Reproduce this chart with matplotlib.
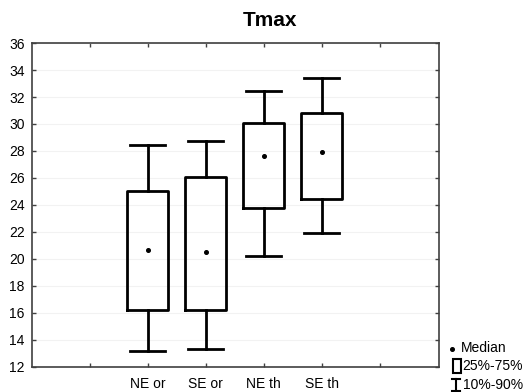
import matplotlib
matplotlib.use("Agg")
import matplotlib.pyplot as plt
from matplotlib.lines import Line2D
from matplotlib.patches import Rectangle

plt.rcParams['font.family'] = ['Liberation Sans', 'DejaVu Sans']

categories = ["NE or", "SE or", "NE th", "SE th"]
p10 = [13.2, 13.35, 20.2, 21.9]
q25 = [16.2, 16.25, 23.75, 24.45]
medians = [20.7, 20.5, 27.6, 27.95]
q75 = [25.0, 26.05, 30.1, 30.8]
p90 = [28.45, 28.75, 32.45, 33.4]

positions = [2, 3, 4, 5]

W, H = 527, 392
fig = plt.figure(figsize=(W / 100, H / 100), dpi=100)
ax = fig.add_axes([0.0602, 0.0638, 0.7734, 0.8265])

stats = []
for c, lo, a, m, b, hi in zip(categories, p10, q25, medians, q75, p90):
    stats.append(dict(label=c, whislo=lo, q1=a, med=m, q3=b, whishi=hi, fliers=[]))

lw = 2.0
ax.bxp(stats, positions=positions, widths=0.71, capwidths=0.6, showfliers=False,
       boxprops=dict(color='black', linewidth=lw),
       whiskerprops=dict(color='black', linewidth=lw),
       capprops=dict(color='black', linewidth=lw),
       medianprops=dict(linewidth=0))
ax.plot(positions, medians, linestyle='none', marker='o', color='black', markersize=2.6)

ax.set_xlim(0, 7.03)
ax.set_ylim(12, 36)
ax.set_yticks(range(12, 37, 2))
ax.set_xticks([1, 2, 3, 4, 5, 6])
ax.set_xticklabels([""] + categories + [""])
ax.yaxis.grid(True, color='#f2f2f2', linewidth=0.8)
ax.set_axisbelow(True)
ax.tick_params(direction='in', length=3, width=1, color='#404040', labelsize=10,
               top=True, right=True, pad=5)
ax.tick_params(axis='x', pad=7)
for s in ax.spines.values():
    s.set_color('#404040')
    s.set_linewidth(1.2)


def fx(x):
    return x / W


def fy(y):
    return 1 - y / H


fig.text(fx(270), fy(21), "Tmax", fontsize=15, fontweight='bold', ha='center', va='center')

# legend drawn in figure pixel space
legend_labels = ["Median", "25%-75%", "10%-90%"]
rows_y = [348.5, 366.5, 385]
fig.add_artist(Line2D([fx(452.3)], [fy(rows_y[0])], linestyle='none', marker='o',
                      color='black', markersize=2.6, transform=fig.transFigure))
fig.add_artist(Rectangle((fx(452.5), fy(373.3)), fx(460.5) - fx(452.5), fy(359) - fy(373.3),
                         facecolor='white', edgecolor='black', linewidth=1.5,
                         transform=fig.transFigure))
ilw = 1.5
fig.add_artist(Line2D([fx(456), fx(456)], [fy(379), fy(390.5)], color='black',
                      linewidth=ilw, transform=fig.transFigure))
fig.add_artist(Line2D([fx(451.7), fx(460.3)], [fy(379), fy(379)], color='black',
                      linewidth=ilw, transform=fig.transFigure))
fig.add_artist(Line2D([fx(451.7), fx(460.3)], [fy(390.5), fy(390.5)], color='black',
                      linewidth=ilw, transform=fig.transFigure))
text_x = [461, 462.5, 462.5]
for lab, ty, tx in zip(legend_labels, rows_y, text_x):
    fig.text(fx(tx), fy(ty), lab, fontsize=10, va='center', ha='left')

fig.savefig("out.png", dpi=100)
